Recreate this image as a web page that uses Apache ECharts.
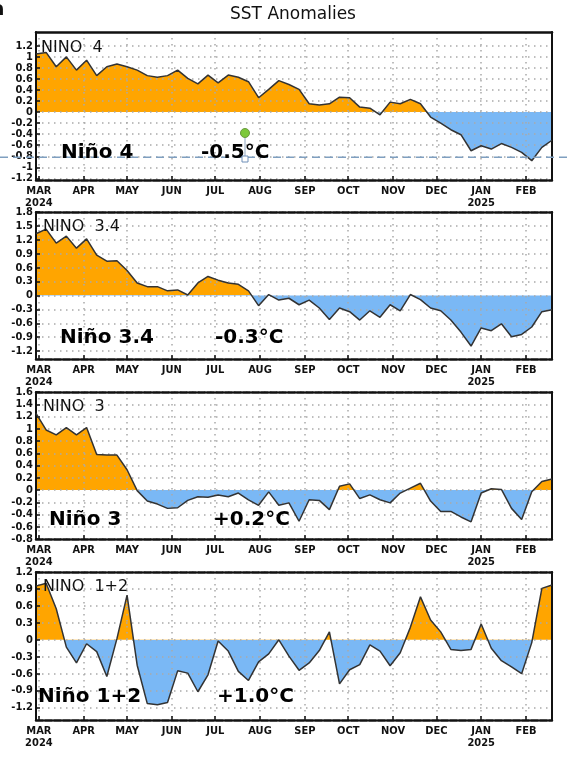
<!DOCTYPE html>
<html>
<head>
<meta charset="utf-8">
<script src="https://cdn.jsdelivr.net/npm/echarts@6/dist/echarts.min.js"></script>
<style>
  html, body { margin: 0; padding: 0; background: #fff; }
  #main { width: 570px; height: 764px; }
</style>
</head>
<body>
<div id="main"></div>
<script>
// weekly values, first week centred 2024-02-28, x in days from that date
var monthDays = [2, 33, 63, 94, 124, 155, 186, 216, 247, 277, 308, 339];
var monthLabels = ['MAR\n2024', 'APR', 'MAY', 'JUN', 'JUL', 'AUG', 'SEP', 'OCT', 'NOV', 'DEC', 'JAN\n2025', 'FEB'];

var nino4 = [1.05, 1.08, 0.82, 1.0, 0.76, 0.94, 0.66, 0.82, 0.87, 0.82, 0.76, 0.66, 0.63,
  0.66, 0.76, 0.61, 0.51, 0.67, 0.53, 0.67, 0.63, 0.55, 0.26, 0.41, 0.57, 0.5,
  0.41, 0.15, 0.13, 0.15, 0.27, 0.26, 0.09, 0.07, -0.05, 0.18, 0.15, 0.23, 0.15,
  -0.09, -0.2, -0.32, -0.41, -0.7, -0.61, -0.67, -0.57, -0.64, -0.73, -0.88, -0.64, -0.51];
var nino34 = [1.33, 1.43, 1.13, 1.28, 1.02, 1.22, 0.87, 0.74, 0.75, 0.54, 0.27, 0.19, 0.19,
  0.1, 0.12, 0.01, 0.27, 0.41, 0.33, 0.27, 0.24, 0.1, -0.22, 0.02, -0.1, -0.06,
  -0.2, -0.1, -0.27, -0.52, -0.27, -0.35, -0.53, -0.33, -0.47, -0.2, -0.33, 0.02, -0.09,
  -0.27, -0.33, -0.53, -0.79, -1.09, -0.7, -0.76, -0.61, -0.89, -0.84, -0.68, -0.35, -0.31];
var nino3 = [1.25, 0.98, 0.9, 1.02, 0.9, 1.02, 0.58, 0.57, 0.57, 0.33, -0.01, -0.18, -0.23,
  -0.3, -0.29, -0.17, -0.11, -0.12, -0.08, -0.11, -0.05, -0.16, -0.25, -0.03, -0.25, -0.21,
  -0.51, -0.16, -0.17, -0.32, 0.06, 0.1, -0.14, -0.08, -0.16, -0.21, -0.05, 0.03, 0.11,
  -0.18, -0.35, -0.35, -0.44, -0.52, -0.05, 0.02, 0.01, -0.3, -0.48, -0.03, 0.14, 0.18];
var nino12 = [0.95, 1.0, 0.55, -0.13, -0.41, -0.07, -0.21, -0.65, 0.02, 0.79, -0.45, -1.13, -1.15,
  -1.11, -0.55, -0.59, -0.92, -0.62, -0.02, -0.2, -0.56, -0.72, -0.39, -0.25, 0.0, -0.29,
  -0.54, -0.41, -0.19, 0.14, -0.78, -0.53, -0.44, -0.09, -0.2, -0.46, -0.23, 0.22, 0.76,
  0.35, 0.14, -0.17, -0.19, -0.17, 0.28, -0.15, -0.37, -0.48, -0.6, -0.05, 0.91, 0.97];

var ticks4 = [-1.2, -1, -0.8, -0.6, -0.4, -0.2, 0, 0.2, 0.4, 0.6, 0.8, 1, 1.2];
var ticks34 = [-1.2, -0.9, -0.6, -0.3, 0, 0.3, 0.6, 0.9, 1.2, 1.5, 1.8];
var ticks3 = [-0.8, -0.6, -0.4, -0.2, 0, 0.2, 0.4, 0.6, 0.8, 1, 1.2, 1.4, 1.6];
var ticks12 = [-1.2, -0.9, -0.6, -0.3, 0, 0.3, 0.6, 0.9, 1.2];

var panelNames = ['NINO  4', 'NINO  3.4', 'NINO  3', 'NINO  1+2'];
var bigNames = ['Niño 4', 'Niño 3.4', 'Niño 3', 'Niño 1+2'];
var latest = ['-0.5°C', '-0.3°C', '+0.2°C', '+1.0°C'];

var ORANGE = '#ffa500';
var BLUE = '#7ab8f5';
var narrow = "'Liberation Sans Narrow', 'DejaVu Sans Condensed', sans-serif";

var panels = [
  {values: nino4, ticks: ticks4, min: -1.23, max: 1.45, top: 32, height: 148, solidTop: true},
  {values: nino34, ticks: ticks34, min: -1.37, max: 1.8, top: 212, height: 147},
  {values: nino3, ticks: ticks3, min: -0.8, max: 1.6, top: 392, height: 147},
  {values: nino12, ticks: ticks12, min: -1.42, max: 1.2, top: 572, height: 148}
];

var dotted = {color: '#a9a9a9', width: 1.5, type: [1.5, 4.5]};
var grids = [], xAxes = [], yAxes = [], series = [], visualMaps = [];

panels.forEach(function (p, i) {
  var pts = [];
  for (var k = 0; k < p.values.length; k++) {
    pts.push([k * 7, p.values[k]]);
  }
  grids.push({left: 36, right: 18, top: p.top, height: p.height});

  xAxes.push({
    type: 'value', gridIndex: i, min: 0, max: 357, position: 'bottom', z: 3,
    axisLine: {show: true, onZero: false, lineStyle: {color: '#111', width: 2.5, type: [7, 2]}},
    axisTick: {show: true, inside: true, length: 4, customValues: monthDays, lineStyle: {color: '#111', width: 1.5}},
    axisLabel: {
      show: true, customValues: monthDays, margin: 5,
      color: '#111', fontSize: 11, fontWeight: 'bold', fontFamily: narrow, lineHeight: 12,
      formatter: function (v) { return monthLabels[monthDays.indexOf(v)]; }
    },
    splitLine: {show: true, lineStyle: dotted}
  });
  xAxes.push({
    type: 'value', gridIndex: i, min: 0, max: 357, position: 'top', z: 3,
    axisLine: {show: true, onZero: false, lineStyle: {color: '#111', width: 2.5, type: p.solidTop ? 'solid' : [7, 2]}},
    axisTick: {show: false}, axisLabel: {show: false}, splitLine: {show: false}
  });

  yAxes.push({
    type: 'value', gridIndex: i, min: p.min, max: p.max, position: 'left', z: 3,
    axisLine: {show: true, onZero: false, lineStyle: {color: '#111', width: 2}},
    axisTick: {show: true, inside: true, length: 4, customValues: p.ticks, lineStyle: {color: '#111', width: 1.5}},
    axisLabel: {
      show: true, customValues: p.ticks, margin: 3,
      color: '#111', fontSize: 11, fontWeight: 'bold', fontFamily: narrow,
      formatter: function (v) { return String(+(+v).toFixed(2)); }
    },
    splitLine: {show: true, lineStyle: dotted}
  });
  yAxes.push({
    type: 'value', gridIndex: i, min: p.min, max: p.max, position: 'right', z: 3,
    axisLine: {show: true, onZero: false, lineStyle: {color: '#111', width: 2}},
    axisTick: {show: false}, axisLabel: {show: false}, splitLine: {show: false}
  });

  // filled area, coloured by sign through the visualMap
  series.push({
    type: 'line', xAxisIndex: 2 * i, yAxisIndex: 2 * i, data: pts,
    symbol: 'none', silent: true, z: 2,
    lineStyle: {width: 0, opacity: 0},
    areaStyle: {opacity: 1}
  });
  series.push({
    type: 'line', xAxisIndex: 2 * i, yAxisIndex: 2 * i, data: pts,
    symbol: 'none', silent: true, z: 4,
    lineStyle: {color: '#333', width: 1.5}
  });
  visualMaps.push({
    type: 'piecewise', show: false, seriesIndex: 2 * i, dimension: 1,
    pieces: [{gte: -5, lt: 0, color: BLUE}, {gte: 0, lte: 5, color: ORANGE}]
  });
});

var myChart = echarts.init(document.getElementById('main'));
myChart.setOption({
  animation: false,
  backgroundColor: '#fff',
  grid: grids,
  xAxis: xAxes,
  yAxis: yAxes,
  visualMap: visualMaps,
  series: series
});

// texts and overlay marks
var labelPos = [
  {name: [41, 48], big: [61, 153], val: [201, 153]},
  {name: [43, 227], big: [60, 338], val: [215, 338]},
  {name: [43, 407], big: [49, 520], val: [213, 520]},
  {name: [43, 587], big: [38, 697], val: [217, 697]}
];
var graphics = [
  {type: 'text', x: 293, y: 15, style: {text: 'SST Anomalies', fill: '#111', font: '17px "DejaVu Sans"', align: 'center', verticalAlign: 'middle'}},
  {type: 'text', x: -9, y: 0, style: {text: 'a', fill: '#111', font: 'bold 20px "DejaVu Sans"'}}
];
labelPos.forEach(function (lp, i) {
  graphics.push({type: 'text', x: lp.name[0], y: lp.name[1], z: 10,
    style: {text: panelNames[i], fill: '#111', font: '16px "DejaVu Sans"', verticalAlign: 'middle'}});
  graphics.push({type: 'text', x: lp.big[0], y: lp.big[1], z: 10,
    style: {text: bigNames[i], fill: '#000', font: 'bold 20px "DejaVu Sans"', verticalAlign: 'middle'}});
  graphics.push({type: 'text', x: lp.val[0], y: lp.val[1], z: 10,
    style: {text: latest[i], fill: '#000', font: 'bold 20px "DejaVu Sans"', verticalAlign: 'middle'}});
});

var refY = myChart.convertToPixel({yAxisIndex: 0}, -0.82);
graphics.push({type: 'line', z: 9, shape: {x1: 0, y1: refY, x2: 570, y2: refY},
  style: {stroke: '#7f9fc0', lineWidth: 1.5, lineDash: [8, 5]}});
graphics.push({type: 'line', z: 11, shape: {x1: 245, y1: 137, x2: 245, y2: 156},
  style: {stroke: '#8fa6c0', lineWidth: 1}});
graphics.push({type: 'circle', z: 11, shape: {cx: 245, cy: 133, r: 4.5},
  style: {fill: '#7cc83a', stroke: '#6a9a40', lineWidth: 1}});
graphics.push({type: 'rect', z: 11, shape: {x: 242, y: 156, width: 6, height: 6},
  style: {fill: '#fff', stroke: '#6f8fb8', lineWidth: 1}});

myChart.setOption({graphic: graphics});
</script>
</body>
</html>
